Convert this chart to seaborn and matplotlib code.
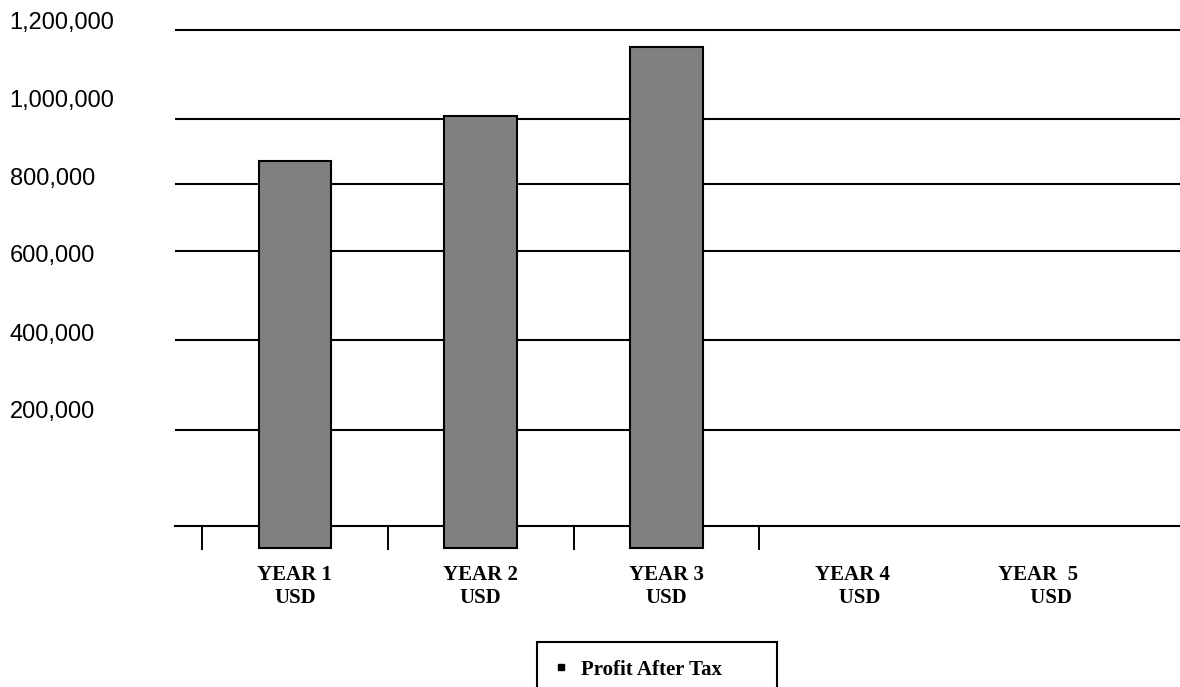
import numpy as np
import seaborn as sns
import matplotlib
matplotlib.use("Agg")
import matplotlib.pyplot as plt
from matplotlib.lines import Line2D
from matplotlib.transforms import ScaledTranslation
from matplotlib.font_manager import FontProperties

# data
years = ["YEAR 1", "YEAR 2", "YEAR 3", "YEAR 4", "YEAR 5"]
year_labels = ["YEAR 1\nUSD", "YEAR 2\nUSD", "YEAR 3\nUSD", "YEAR 4\n   USD", "YEAR  5\n     USD"]
profit = [872000, 1007000, 1163000, np.nan, np.nan]
series_name = "Profit After Tax"
y_ticks = [200000, 400000, 600000, 800000, 1000000, 1200000]
y_tick_labels = ["200,000", "400,000", "600,000", "800,000", "1,000,000", "1,200,000"]

# the original value axis is not evenly spaced: gridline heights (px above the base line)
scale_vals = [0, 200000, 400000, 600000, 800000, 1000000, 1200000]
scale_px = [0, 96.3, 186, 275.3, 341.7, 406.7, 496]
# label shift upward (px) relative to their gridlines, as in the source
label_shift = [20.5, 7.8, -3.1, 7.6, 20.5, 9.5]


def piecewise(src, dst):
    src = np.asarray(src, float)
    dst = np.asarray(dst, float)
    lo_slope = (dst[1] - dst[0]) / (src[1] - src[0])
    hi_slope = (dst[-1] - dst[-2]) / (src[-1] - src[-2])

    def f(v):
        v = np.asarray(v, float)
        out = np.interp(v, src, dst)
        out = np.where(v < src[0], dst[0] + (v - src[0]) * lo_slope, out)
        out = np.where(v > src[-1], dst[-1] + (v - src[-1]) * hi_slope, out)
        return out
    return f


fwd = piecewise(scale_vals, scale_px)
inv = piecewise(scale_px, scale_vals)

sns.set_style("white")
plt.rcParams["font.family"] = ["Liberation Sans", "DejaVu Sans"]

fig = plt.figure(figsize=(11.8, 6.87), dpi=100)
W, H = 1180, 687
ax_left, ax_right, ax_top, ax_bottom = 175, 1180, 20, 552
ax = fig.add_axes([ax_left / W, 1 - ax_bottom / H, (ax_right - ax_left) / W, (ax_bottom - ax_top) / H])
ax.set_yscale("function", functions=(fwd, inv))
base_px = 526

sns.barplot(x=years, y=profit, order=years, color="#808080", edgecolor="black",
            linewidth=1.5, width=0.39, saturation=1, zorder=3, ax=ax)

# bars in the original hang slightly below the category line
bar_base = float(inv(-21.5))
for p in ax.patches:
    h = p.get_height()
    if np.isfinite(h):
        p.set_y(bar_base)
        p.set_height(h - bar_base)

# spine position first: it resets the ticks
for s in ["top", "right", "left"]:
    ax.spines[s].set_visible(False)
ax.spines["bottom"].set_position(("data", 0))
ax.spines["bottom"].set_color("black")
ax.spines["bottom"].set_linewidth(1.5)

cat_w = (945 - 202) / 4
ax.set_xlim(-0.5 - (202 - ax_left) / cat_w, -0.5 + (ax_right - 202) / cat_w)
ax.set_ylim(float(inv(base_px - ax_bottom)), float(inv(base_px - ax_top)))

ax.set_xticks(range(len(years)))
ax.set_xticks(np.arange(len(years) - 1) - 0.5, minor=True)
ax.tick_params(axis="x", which="major", length=0, pad=28)
ax.tick_params(axis="x", which="minor", bottom=True, direction="out", length=17.3,
               width=1.4, color="black")
ax.set_xticklabels(year_labels, fontfamily="Liberation Serif", fontweight="bold",
                   fontsize=15, linespacing=1.2, color="black")

ax.set_yticks(y_ticks)
ax.yaxis.set_minor_locator(matplotlib.ticker.NullLocator())
ax.tick_params(axis="y", which="both", length=0, pad=119)
ax.set_yticklabels(y_tick_labels, fontsize=17, color="black")
for lab, dy in zip(ax.get_yticklabels(), label_shift):
    lab.set_horizontalalignment("left")
    lab.set_transform(lab.get_transform() + ScaledTranslation(0, dy / 100, fig.dpi_scale_trans))

ax.grid(axis="y", color="black", linewidth=1.5)
ax.grid(axis="x", visible=False)
ax.set_axisbelow(True)
ax.set_xlabel("")
ax.set_ylabel("")

handle = Line2D([0], [0], marker="s", color="black", linestyle="none", markersize=4.5)
leg = fig.legend(handles=[handle], labels=[series_name], loc="upper left",
                 bbox_to_anchor=(537 / W, -0.1, 240 / W, 0.1 + 1 - 642 / H),
                 mode="expand", borderaxespad=0, frameon=True, fancybox=False,
                 edgecolor="black", framealpha=1, borderpad=0.85, handlelength=0.6,
                 handletextpad=0.66, labelcolor="black",
                 prop=FontProperties(family="Liberation Serif", weight="bold", size=15))
leg.get_frame().set_linewidth(1.5)

fig.savefig("out.png", dpi=100)
